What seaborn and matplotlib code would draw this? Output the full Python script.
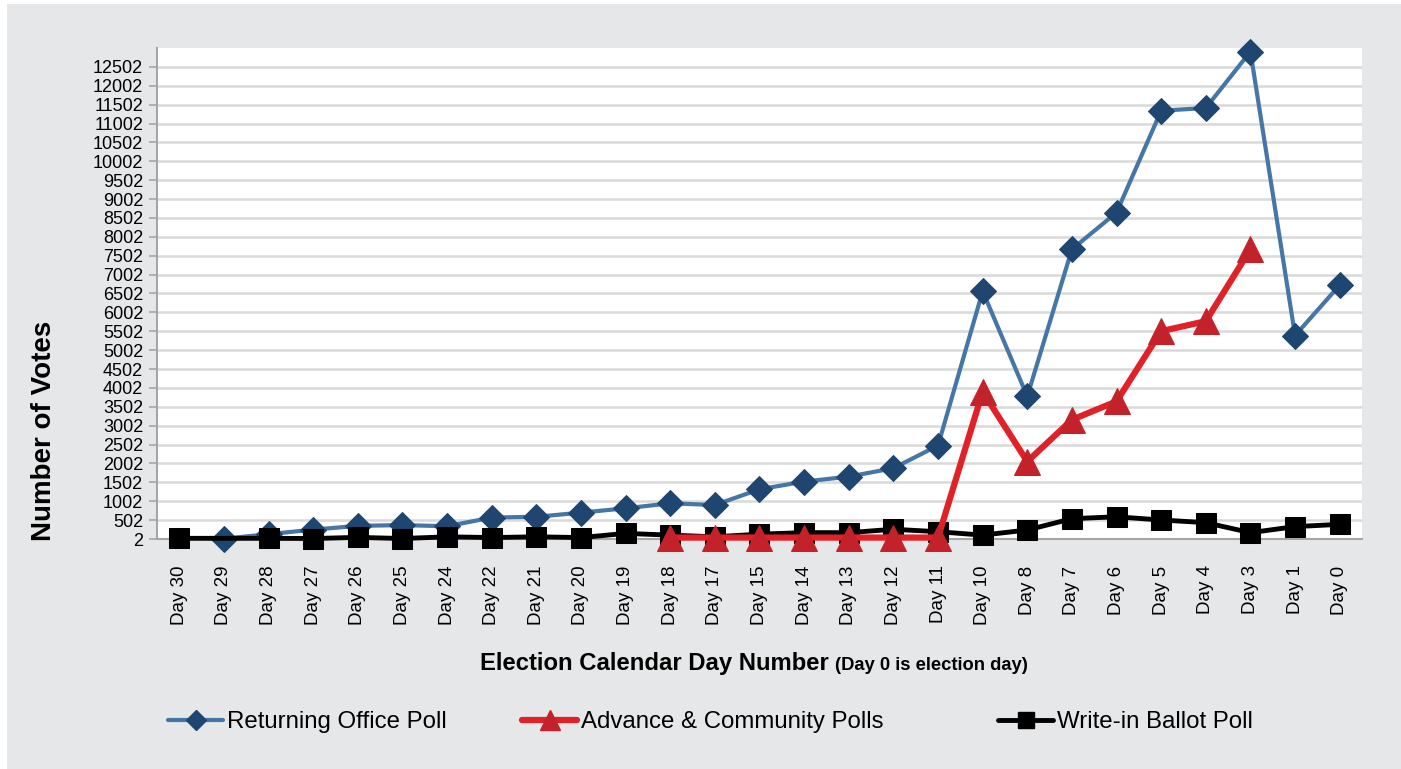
import numpy as np
import pandas as pd
import matplotlib.pyplot as plt
import seaborn as sns
from matplotlib.patches import Rectangle
from matplotlib.lines import Line2D

days = ['Day 30', 'Day 29', 'Day 28', 'Day 27', 'Day 26', 'Day 25', 'Day 24', 'Day 22', 'Day 21',
        'Day 20', 'Day 19', 'Day 18', 'Day 17', 'Day 15', 'Day 14', 'Day 13', 'Day 12', 'Day 11',
        'Day 10', 'Day 8', 'Day 7', 'Day 6', 'Day 5', 'Day 4', 'Day 3', 'Day 1', 'Day 0']

returning_office = [np.nan, 10, 130, 250, 350, 370, 340, 570, 590, 700, 815, 947, 902, 1319, 1521,
                    1654, 1876, 2477, 6563, 3778, 7672, 8645, 11342, 11413, 12908, 5389, 6724]
advance_community = [np.nan] * 11 + [40, 40, 40, 40, 40, 40, 40, 3900, 2053, 3160, 3646, 5504,
                                     5769, 7672, np.nan, np.nan]
write_in = [20, np.nan, 20, 15, 45, 15, 60, 40, 60, 40, 150, 105, 60, 130, 170, 170, 260, 195,
            105, 240, 540, 590, 505, 435, 170, 330, 390]

y_ticks = np.arange(2, 12503, 500)

df = pd.DataFrame({'pos': np.arange(len(days)),
                   'Returning Office Poll': returning_office,
                   'Advance & Community Polls': advance_community,
                   'Write-in Ballot Poll': write_in})

sns.set_style('white')
plt.rcParams['font.family'] = ['Liberation Sans', 'DejaVu Sans']
plt.rcParams['text.color'] = 'black'
plt.rcParams['axes.labelcolor'] = 'black'

fig = plt.figure(figsize=(14.01, 7.69), dpi=100)
fig.patch.set_facecolor('white')
fig.patches.append(Rectangle((7 / 1401, 0), 1, 1 - 4 / 769, transform=fig.transFigure,
                             facecolor='#e6e7e8', edgecolor='none', zorder=-10))
ax = fig.add_axes([157 / 1401, 1 - 539 / 769, 1205 / 1401, 491 / 769])
ax.set_facecolor('white')

# drawing order: blue, black, red (red triangles sit on top of the black squares)
styles = {
    'Returning Office Poll': dict(color='#4676a6', marker='D', markersize=13.5, lw=3,
                                  mfc='#1f4670', mec='#1f4670', z=3),
    'Write-in Ballot Poll': dict(color='black', marker='s', markersize=15, lw=3.5,
                                 mfc='black', mec='black', z=4),
    'Advance & Community Polls': dict(color='#e02127', marker='^', markersize=19, lw=4.5,
                                      mfc='#c4222a', mec='#c4222a', z=5),
}

for name, st in styles.items():
    sns.lineplot(data=df, x='pos', y=name, ax=ax, color=st['color'], lw=st['lw'],
                 marker=st['marker'], markersize=st['markersize'],
                 markerfacecolor=st['mfc'], markeredgecolor=st['mec'], sort=False,
                 zorder=st['z'], clip_on=False)

ax.set_xlim(-0.5, len(days) - 0.5)
ax.set_ylim(2, 13002)
ax.set_yticks(y_ticks)
ax.set_yticklabels([str(v) for v in y_ticks], fontsize=13)
ax.set_xticks(np.arange(len(days)))
ax.set_xticklabels(days, rotation=90, fontsize=13.5)
ax.set_xticks(np.arange(len(days) + 1) - 0.5, minor=True)
ax.tick_params(axis='x', which='major', length=0, pad=19, labelcolor='black')
ax.tick_params(axis='x', which='minor', length=6, color='#a6a6a6', width=1.2, direction='out')
ax.tick_params(axis='y', which='major', length=6, color='#a6a6a6', width=1.2, direction='out',
               left=True, pad=4, labelcolor='black')
ax.grid(axis='y', color='#d9d9d9', lw=1.8)
ax.set_axisbelow(True)
for side in ['top', 'right']:
    ax.spines[side].set_visible(False)
for side in ['left', 'bottom']:
    ax.spines[side].set_color('#a6a6a6')
    ax.spines[side].set_linewidth(1.5)

ax.set_xlabel('')
ax.set_ylabel('Number of Votes', fontsize=20, fontweight='bold', color='black')
ax.yaxis.set_label_coords(-0.083, 0.22)

fig.text(829 / 1401, 1 - 670 / 769, 'Election Calendar Day Number', fontsize=17.2,
         fontweight='bold', ha='right', va='baseline', color='black')
fig.text(835 / 1401, 1 - 670 / 769, '(Day 0 is election day)', fontsize=13.2,
         fontweight='bold', ha='left', va='baseline', color='black')

legend_x = {'Returning Office Poll': 168, 'Advance & Community Polls': 522,
            'Write-in Ballot Poll': 998}
for name, st in styles.items():
    h = Line2D([], [], color=st['color'], lw=st['lw'], marker=st['marker'],
               markersize=st['markersize'] * 0.75, markerfacecolor=st['mfc'],
               markeredgecolor=st['mec'], label=name)
    leg = fig.legend(handles=[h], loc='center left',
                     bbox_to_anchor=(legend_x[name] / 1401, 1 - 722 / 769),
                     frameon=False, fontsize=17.3, handlelength=2.3, handletextpad=0.15,
                     borderpad=0, borderaxespad=0)
    for t in leg.get_texts():
        t.set_color('black')

fig.savefig('out.png', dpi=100, facecolor=fig.get_facecolor())
